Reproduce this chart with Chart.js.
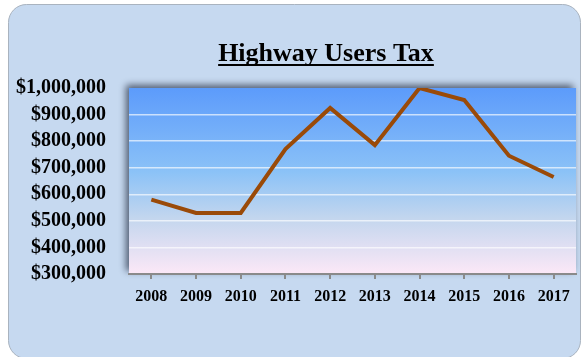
<!DOCTYPE html>
<html>
<head>
<meta charset="utf-8">
<script src="https://cdn.jsdelivr.net/npm/chart.js@4"></script>
<style>
  html, body { margin: 0; padding: 0; background: #fff; }
  #wrap { width: 581px; height: 357px; }
</style>
</head>
<body>
<div id="wrap"><canvas id="taxChart" width="581" height="357"></canvas></div>
<script>
const years = ['2008', '2009', '2010', '2011', '2012', '2013', '2014', '2015', '2016', '2017'];
const taxCollected = [580000, 530000, 530000, 770000, 925000, 785000, 1000000, 955000, 745000, 665000];
const yMin = 300000;
const yMax = 1000000;
const yStep = 100000;
const chartTitle = 'Highway Users Tax';

const SERIF = '"Liberation Serif", "Times New Roman", serif';

// frame, plot background and underlined title
const decor = {
  id: 'decor',
  beforeDraw(chart) {
    const ctx = chart.ctx;
    const a = chart.chartArea;
    ctx.save();
    ctx.fillStyle = '#ffffff';
    ctx.fillRect(0, 0, chart.width, chart.height);

    // rounded panel
    ctx.beginPath();
    ctx.roundRect(8.5, 4.5, 572, 354, 18);
    ctx.fillStyle = '#c6d9f0';
    ctx.fill();
    ctx.strokeStyle = '#a9b3bf';
    ctx.lineWidth = 1;
    ctx.stroke();

    // plot area with soft shadow up/left
    const g = ctx.createLinearGradient(0, a.top, 0, a.bottom);
    g.addColorStop(0, '#5c9bfb');
    g.addColorStop(0.45, '#8bc2f7');
    g.addColorStop(0.7, '#c3d6ee');
    g.addColorStop(1, '#fce8f7');
    ctx.shadowColor = 'rgba(40, 50, 70, 0.75)';
    ctx.shadowBlur = 7;
    ctx.shadowOffsetX = -3;
    ctx.shadowOffsetY = -3;
    ctx.fillStyle = g;
    ctx.fillRect(a.left, a.top, a.right - a.left, a.bottom - a.top);
    ctx.restore();

    // title
    ctx.save();
    ctx.font = 'bold 26px ' + SERIF;
    ctx.fillStyle = '#000';
    ctx.textAlign = 'center';
    ctx.textBaseline = 'alphabetic';
    const cx = 326;
    const base = 61;
    ctx.fillText(chartTitle, cx, base);
    const w = ctx.measureText(chartTitle).width;
    ctx.fillRect(cx - w / 2, base + 3, w, 2);
    ctx.restore();
  }
};

new Chart(document.getElementById('taxChart'), {
  type: 'line',
  data: {
    labels: years,
    datasets: [{
      label: chartTitle,
      data: taxCollected,
      borderColor: '#9a4a08',
      borderWidth: 4,
      pointRadius: 0,
      tension: 0,
      fill: false,
      clip: 0
    }]
  },
  options: {
    responsive: false,
    animation: false,
    devicePixelRatio: 1,
    layout: { padding: { top: 88, right: 5, bottom: 0, left: 0 } },
    plugins: {
      legend: { display: false },
      title: { display: false },
      tooltip: { enabled: false }
    },
    scales: {
      x: {
        offset: true,
        grid: {
          drawOnChartArea: false,
          drawTicks: true,
          tickLength: 5,
          color: '#8a8a8a',
          lineWidth: 2
        },
        border: { display: true, color: '#8a8a8a', width: 2 },
        ticks: {
          color: '#000',
          padding: 8,
          maxRotation: 0,
          autoSkip: false,
          font: { family: SERIF, size: 16, weight: 'bold' }
        },
        afterFit(scale) { scale.height = 83; }
      },
      y: {
        min: yMin,
        max: yMax,
        grid: {
          drawTicks: false,
          color: (c) => (c.tick && (c.tick.value === yMin || c.tick.value === yMax)) ? 'rgba(0,0,0,0)' : 'rgba(255,255,255,0.65)',
          lineWidth: 1.5
        },
        border: { display: false },
        ticks: {
          stepSize: yStep,
          autoSkip: false,
          color: '#000',
          padding: 23,
          font: { family: SERIF, size: 20, weight: 'bold' },
          callback: (v) => '$' + Number(v).toLocaleString('en-US')
        },
        afterFit(scale) { scale.width = 129; }
      }
    }
  },
  plugins: [decor]
});
</script>
</body>
</html>
